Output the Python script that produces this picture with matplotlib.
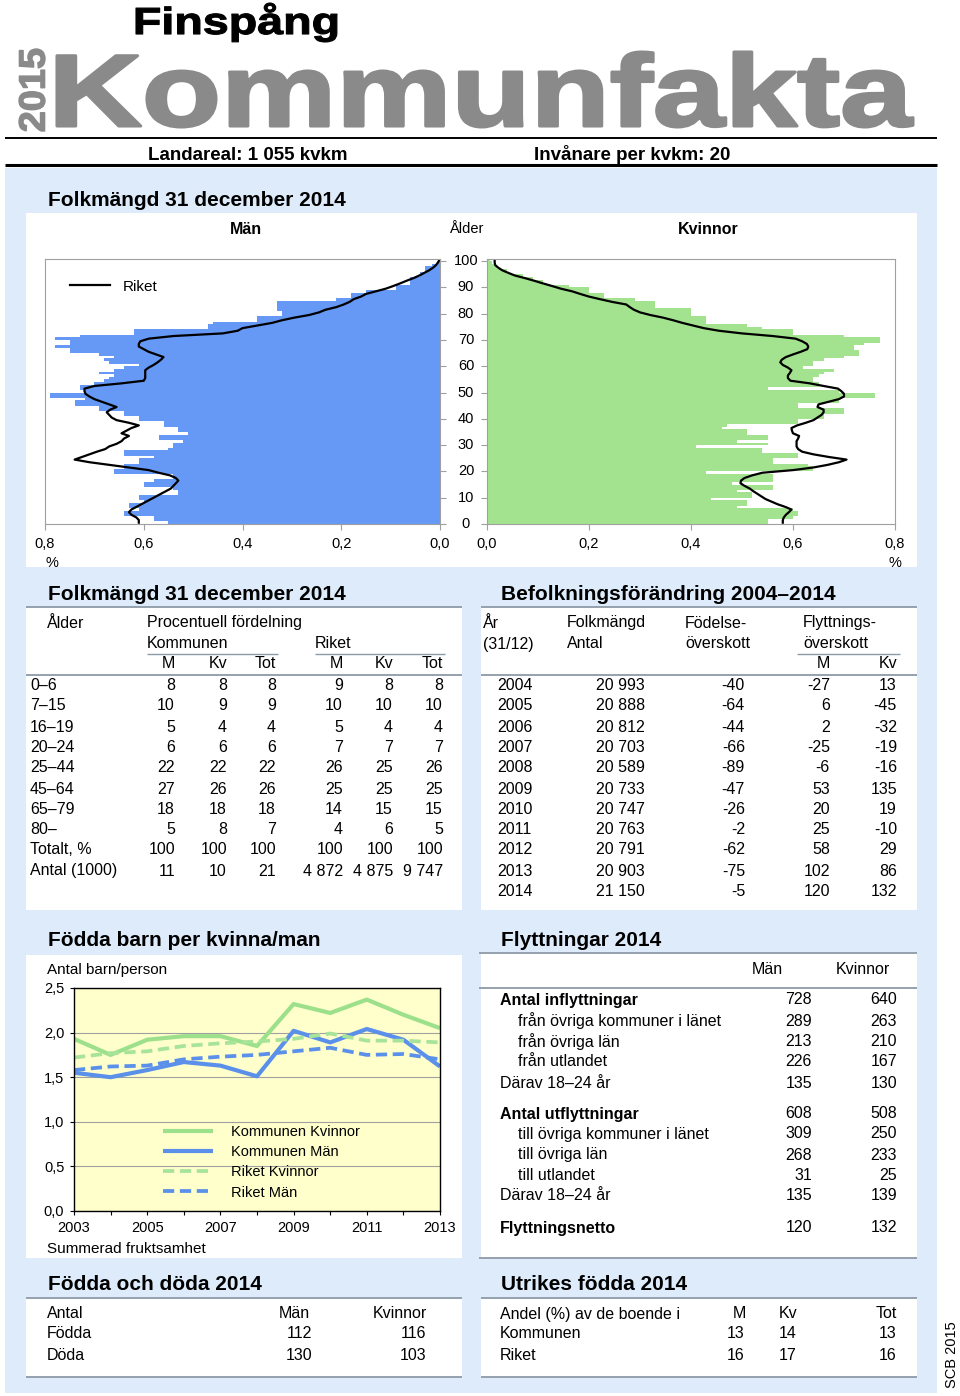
import matplotlib
matplotlib.use('Agg')
import matplotlib.pyplot as plt
import numpy as np
from matplotlib.textpath import TextPath
from matplotlib.font_manager import FontProperties
from matplotlib.patches import PathPatch, Rectangle
from matplotlib.path import Path
from matplotlib.transforms import blended_transform_factory

FONT = 'Liberation Sans'
plt.rcParams['font.family'] = [FONT, 'DejaVu Sans']

# ---------------- DATA ----------------
ages = list(range(0, 101))
men_kommun = [0.55, 0.58, 0.58, 0.64, 0.64, 0.61, 0.63, 0.63, 0.60, 0.61,
              0.61, 0.53, 0.53, 0.54, 0.60, 0.60, 0.58, 0.54, 0.54, 0.66,
              0.66, 0.64, 0.64, 0.61, 0.61, 0.58, 0.64, 0.64, 0.55, 0.54,
              0.54, 0.52, 0.57, 0.57, 0.51, 0.53, 0.53, 0.56, 0.56, 0.61,
              0.61, 0.64, 0.64, 0.69, 0.69, 0.74, 0.74, 0.72, 0.79, 0.79,
              0.72, 0.73, 0.73, 0.70, 0.68, 0.67, 0.66, 0.69, 0.66, 0.64,
              0.61, 0.67, 0.68, 0.66, 0.69, 0.75, 0.75, 0.78, 0.75, 0.75,
              0.78, 0.73, 0.62, 0.62, 0.47, 0.47, 0.46, 0.37, 0.37, 0.32,
              0.32, 0.33, 0.33, 0.33, 0.33, 0.21, 0.18, 0.18, 0.15, 0.09,
              0.09, 0.06, 0.06, 0.06, 0.04, 0.04, 0.03, 0.03, 0.017, 0.007,
              0.003]
men_riket = [0.61, 0.61, 0.615, 0.625, 0.63, 0.625, 0.615, 0.605, 0.595, 0.585,
             0.575, 0.565, 0.555, 0.545, 0.54, 0.535, 0.53, 0.535, 0.547, 0.57,
             0.59, 0.63, 0.67, 0.71, 0.74, 0.725, 0.71, 0.695, 0.678, 0.67,
             0.655, 0.645, 0.64, 0.63, 0.645, 0.635, 0.625, 0.61, 0.63, 0.655,
             0.665, 0.67, 0.675, 0.668, 0.655, 0.67, 0.685, 0.70, 0.71, 0.718,
             0.72, 0.72, 0.70, 0.645, 0.60, 0.597, 0.597, 0.597, 0.597, 0.59,
             0.58, 0.572, 0.565, 0.56, 0.575, 0.59, 0.60, 0.61, 0.61, 0.607,
             0.59, 0.54, 0.44, 0.41, 0.40, 0.37, 0.34, 0.32, 0.295, 0.265,
             0.245, 0.232, 0.21, 0.195, 0.183, 0.175, 0.16, 0.15, 0.13, 0.11,
             0.095, 0.081, 0.068, 0.054, 0.042, 0.032, 0.022, 0.014, 0.008, 0.004,
             0.001]
women_kommun = [0.55, 0.55, 0.60, 0.61, 0.61, 0.60, 0.49, 0.51, 0.51, 0.44,
                0.52, 0.52, 0.49, 0.56, 0.56, 0.48, 0.56, 0.56, 0.56, 0.43,
                0.64, 0.64, 0.63, 0.56, 0.56, 0.61, 0.61, 0.54, 0.54, 0.41,
                0.55, 0.49, 0.55, 0.55, 0.51, 0.51, 0.46, 0.47, 0.61, 0.61,
                0.66, 0.66, 0.70, 0.70, 0.61, 0.61, 0.69, 0.69, 0.76, 0.76,
                0.69, 0.55, 0.65, 0.65, 0.64, 0.64, 0.65, 0.66, 0.68, 0.62,
                0.64, 0.64, 0.66, 0.70, 0.73, 0.73, 0.72, 0.72, 0.74, 0.77,
                0.77, 0.70, 0.60, 0.60, 0.54, 0.51, 0.43, 0.43, 0.43, 0.40,
                0.40, 0.40, 0.33, 0.33, 0.33, 0.29, 0.23, 0.23, 0.20, 0.20,
                0.16, 0.11, 0.11, 0.09, 0.07, 0.04, 0.04, 0.02, 0.015, 0.01,
                0.005]
women_riket = [0.58, 0.58, 0.582, 0.586, 0.592, 0.597, 0.585, 0.57, 0.558, 0.546,
               0.538, 0.53, 0.522, 0.515, 0.505, 0.497, 0.498, 0.505, 0.52, 0.54,
               0.60, 0.64, 0.668, 0.69, 0.705, 0.67, 0.64, 0.618, 0.61, 0.607,
               0.607, 0.607, 0.61, 0.612, 0.60, 0.598, 0.597, 0.608, 0.625, 0.64,
               0.648, 0.656, 0.66, 0.66, 0.648, 0.65, 0.67, 0.69, 0.70, 0.70,
               0.695, 0.688, 0.66, 0.633, 0.595, 0.59, 0.59, 0.594, 0.597, 0.59,
               0.58, 0.575, 0.578, 0.586, 0.60, 0.615, 0.628, 0.63, 0.627, 0.618,
               0.605, 0.56, 0.50, 0.455, 0.425, 0.404, 0.383, 0.365, 0.345, 0.32,
               0.30, 0.288, 0.28, 0.273, 0.245, 0.222, 0.20, 0.183, 0.167, 0.145,
               0.128, 0.11, 0.093, 0.075, 0.055, 0.042, 0.03, 0.022, 0.016, 0.015,
               0.015]
pyr_xticks = [0.0, 0.2, 0.4, 0.6, 0.8]
pyr_xticklabels = ['0,0', '0,2', '0,4', '0,6', '0,8']
age_ticks = list(range(0, 101, 10))

# fertility
fert_years = list(range(2003, 2014))
fert_kom_kv = [1.93, 1.75, 1.92, 1.96, 1.96, 1.85, 2.32, 2.22, 2.37, 2.20, 2.05]
fert_kom_m = [1.55, 1.50, 1.58, 1.67, 1.63, 1.51, 2.02, 1.89, 2.04, 1.92, 1.62]
fert_rik_kv = [1.72, 1.77, 1.79, 1.85, 1.88, 1.90, 1.93, 1.99, 1.91, 1.91, 1.89]
fert_rik_m = [1.58, 1.62, 1.63, 1.70, 1.73, 1.75, 1.79, 1.83, 1.75, 1.76, 1.70]
fert_yticks = [0.0, 0.5, 1.0, 1.5, 2.0, 2.5]
fert_yticklabels = ['0,0', '0,5', '1,0', '1,5', '2,0', '2,5']
fert_xticklabels = ['2003', '', '2005', '', '2007', '', '2009', '', '2011', '', '2013']
fert_labels = ['Kommunen Kvinnor', 'Kommunen Män', 'Riket Kvinnor', 'Riket Män']

# Folkmängd table
age_groups = ['0–6', '7–15', '16–19', '20–24', '25–44', '45–64', '65–79', '80–', 'Totalt, %', 'Antal (1000)']
kom_m = ['8', '10', '5', '6', '22', '27', '18', '5', '100', '11']
kom_kv = ['8', '9', '4', '6', '22', '26', '18', '8', '100', '10']
kom_tot = ['8', '9', '4', '6', '22', '26', '18', '7', '100', '21']
rik_m = ['9', '10', '5', '7', '26', '25', '14', '4', '100', '4 872']
rik_kv = ['8', '10', '4', '7', '25', '25', '15', '6', '100', '4 875']
rik_tot = ['8', '10', '4', '7', '26', '25', '15', '5', '100', '9 747']

# Befolkningsförändring
bf_years = ['2004', '2005', '2006', '2007', '2008', '2009', '2010', '2011', '2012', '2013', '2014']
bf_folkmangd = ['20 993', '20 888', '20 812', '20 703', '20 589', '20 733', '20 747', '20 763', '20 791', '20 903', '21 150']
bf_fodelse = ['-40', '-64', '-44', '-66', '-89', '-47', '-26', '-2', '-62', '-75', '-5']
bf_flytt_m = ['-27', '6', '2', '-25', '-6', '53', '20', '25', '58', '102', '120']
bf_flytt_kv = ['13', '-45', '-32', '-19', '-16', '135', '19', '-10', '29', '86', '132']

# Flyttningar
fl_labels = ['Antal inflyttningar', 'från övriga kommuner i länet', 'från övriga län', 'från utlandet',
             'Därav 18–24 år', 'Antal utflyttningar', 'till övriga kommuner i länet', 'till övriga län',
             'till utlandet', 'Därav 18–24 år', 'Flyttningsnetto']
fl_man = ['728', '289', '213', '226', '135', '608', '309', '268', '31', '135', '120']
fl_kvinnor = ['640', '263', '210', '167', '130', '508', '250', '233', '25', '139', '132']

# Födda och döda
fd_rows = ['Födda', 'Döda']
fd_man = ['112', '130']
fd_kvinnor = ['116', '103']

# Utrikes födda
uf_rows = ['Kommunen', 'Riket']
uf_m = ['13', '16']
uf_kv = ['14', '17']
uf_tot = ['13', '16']

# ---------------- FIGURE ----------------
W, H = 960, 1396
fig = plt.figure(figsize=(W / 100, H / 100), dpi=100)
fig.patch.set_facecolor('white')
bg = fig.add_axes([0, 0, 1, 1])
bg.set_xlim(0, W)
bg.set_ylim(H, 0)
bg.axis('off')

BLUE_BG = '#DDEBFA'
LINE_C = '#8E9AA8'
BAR_BLUE = '#6699F5'
BAR_GREEN = '#A3E38F'


def rect(x0, y0, x1, y1, color):
    bg.add_patch(Rectangle((x0, y0), x1 - x0, y1 - y0, facecolor=color, edgecolor='none', zorder=0))


def hline(y, x0, x1, color=LINE_C, lw=1.3):
    bg.plot([x0, x1], [y, y], color=color, lw=lw, solid_capstyle='butt', zorder=2)


def T(x, y, s, size=11.5, ha='left', weight='normal', color='black', **kw):
    bg.text(x, y, s, fontsize=size, ha=ha, va='center', fontweight=weight, color=color, **kw)


def px_axes(x0, y0, x1, y1):
    return fig.add_axes([x0 / W, 1 - y1 / H, (x1 - x0) / W, (y1 - y0) / H])


def fit_text(s, box, color, rotate=False, size=100, stroke=0.0):
    fp = FontProperties(family=FONT, weight='bold')
    tp = TextPath((0, 0), s, size=size, prop=fp)
    ext = tp.get_extents()
    v = tp.vertices
    x0, y0, x1, y1 = box
    u = (v[:, 0] - ext.x0) / (ext.x1 - ext.x0)
    w = (v[:, 1] - ext.y0) / (ext.y1 - ext.y0)
    if not rotate:
        X = x0 + u * (x1 - x0)
        Y = y1 - w * (y1 - y0)
    else:
        X = x1 - w * (x1 - x0)
        Y = y1 - u * (y1 - y0)
    bg.add_patch(PathPatch(Path(np.column_stack([X, Y]), tp.codes), facecolor=color,
                           edgecolor=color if stroke else 'none', linewidth=stroke,
                           joinstyle='round', zorder=3))


# header
fit_text('Finspång', (136, 3, 337, 42), 'black', stroke=0.8)
fit_text('Kommunfakta', (57, 52, 913, 127), '#8A8A8A', stroke=2.2)
fit_text('2015', (19, 49, 45, 131), '#8A8A8A', rotate=True, stroke=1.0)
hline(138, 5, 937, color='black', lw=1.4)
T(148, 155, 'Landareal: 1 055 kvkm', size=13.5, weight='bold')
T(534, 155, 'Invånare per kvkm: 20', size=13.5, weight='bold')
hline(165, 5, 937, color='black', lw=2.2)

# blue background
rect(5, 168, 937, 1393, BLUE_BG)
bg.text(952, 1355, 'SCB 2015', fontsize=10.5, rotation=90, ha='center', va='center')

# ---- Section 1: pyramid ----
T(48, 200, 'Folkmängd 31 december 2014', size=15, weight='bold')
rect(26, 213, 917, 567, 'white')
T(246, 229, 'Män', size=11.5, weight='bold', ha='center')
T(466, 229, 'Ålder', size=10.5, ha='center')
T(708, 229, 'Kvinnor', size=11.5, weight='bold', ha='center')
T(52, 563, '%', size=10.5, ha='center')
T(895, 563, '%', size=10.5, ha='center')

FR = '#A0A0A0'
axL = px_axes(45, 259, 440, 524)
axL.barh(ages, men_kommun, height=1.0, align='edge', color=BAR_BLUE, linewidth=0)
axL.plot(men_riket, [a + 0.5 for a in ages], color='black', lw=1.6, label='Riket')
axL.set_xlim(0.8, 0.0)
axL.set_ylim(0, 100.8)
axL.set_xticks(pyr_xticks)
axL.set_xticklabels(pyr_xticklabels, fontsize=10.5)
axL.set_yticks(age_ticks)
axL.yaxis.tick_right()
axL.tick_params(axis='y', labelright=False, length=4, color=FR, direction='out')
axL.tick_params(axis='x', length=4, color=FR, pad=5)
for sp in axL.spines.values():
    sp.set_color(FR)
axL.legend(loc='center left', bbox_to_anchor=(0.063, 0.895), frameon=False, fontsize=11,
           handlelength=2.6, handletextpad=0.85, borderpad=0, borderaxespad=0)
tr = blended_transform_factory(axL.transAxes, axL.transData)
for a in age_ticks:
    axL.text((466 - 45) / 395, a, str(a), transform=tr, ha='center', va='center', fontsize=10.5,
             clip_on=False)

axR = px_axes(487, 259, 895, 524)
axR.barh(ages, women_kommun, height=1.0, align='edge', color=BAR_GREEN, linewidth=0)
axR.plot(women_riket, [a + 0.5 for a in ages], color='black', lw=1.6)
axR.set_xlim(0.0, 0.8)
axR.set_ylim(0, 100.8)
axR.set_xticks(pyr_xticks)
axR.set_xticklabels(pyr_xticklabels, fontsize=10.5)
axR.set_yticks(age_ticks)
axR.tick_params(axis='y', labelleft=False, length=4, color=FR, direction='out')
axR.tick_params(axis='x', length=4, color=FR, pad=5)
for sp in axR.spines.values():
    sp.set_color(FR)

# ---- Section 2 left: Folkmängd table ----
T(48, 594, 'Folkmängd 31 december 2014', size=15, weight='bold')
rect(26, 607, 462, 910, 'white')
hline(607, 26, 462)
T(47, 623, 'Ålder')
T(147, 623, 'Procentuell fördelning')
T(147, 644, 'Kommunen')
T(315, 644, 'Riket')
hline(654, 147, 278, lw=1.0)
hline(654, 315, 445, lw=1.0)
cols_l = [175, 227, 276, 343, 393, 443]
for x, s in zip(cols_l, ['M', 'Kv', 'Tot', 'M', 'Kv', 'Tot']):
    T(x, 664, s, ha='right')
hline(675, 26, 462)
row_y = [685, 706, 727, 747, 768, 789, 809, 830, 850, 871]
for i, y in enumerate(row_y):
    T(30, y, age_groups[i])
    for x, col in zip(cols_l, [kom_m, kom_kv, kom_tot, rik_m, rik_kv, rik_tot]):
        T(x, y, col[i], ha='right')

# ---- Section 2 right: Befolkningsförändring ----
T(501, 594, 'Befolkningsförändring 2004–2014', size=15, weight='bold')
rect(481, 607, 917, 910, 'white')
hline(607, 481, 917)
T(483, 623, 'År')
T(483, 644, '(31/12)')
T(567, 623, 'Folkmängd')
T(567, 644, 'Antal')
T(685, 623, 'Födelse-')
T(685, 644, 'överskott')
T(803, 623, 'Flyttnings-')
T(803, 644, 'överskott')
hline(654, 797, 900, lw=1.0)
T(830, 664, 'M', ha='right')
T(897, 664, 'Kv', ha='right')
hline(675, 481, 917)
row_y2 = [685, 706, 727, 747, 768, 789, 809, 830, 850, 871, 892]
for i, y in enumerate(row_y2):
    T(497, y, bf_years[i])
    T(645, y, bf_folkmangd[i], ha='right')
    T(745, y, bf_fodelse[i], ha='right')
    T(830, y, bf_flytt_m[i], ha='right')
    T(897, y, bf_flytt_kv[i], ha='right')

# ---- Section 3 left: fertility ----
T(48, 940, 'Födda barn per kvinna/man', size=15, weight='bold')
rect(26, 955, 462, 1258, 'white')
T(47, 970, 'Antal barn/person', size=11)
T(47, 1249, 'Summerad fruktsamhet', size=11)
axF = px_axes(74, 988, 440, 1211)
axF.set_facecolor('#FFFFCC')
GREEN_L = '#9DE08C'
BLUE_L = '#5A90EA'
axF.plot(fert_years, fert_kom_kv, color=GREEN_L, lw=3.0, solid_capstyle='butt',
         solid_joinstyle='round', label=fert_labels[0])
axF.plot(fert_years, fert_kom_m, color=BLUE_L, lw=3.0, solid_capstyle='butt',
         solid_joinstyle='round', label=fert_labels[1])
axF.plot(fert_years, fert_rik_kv, color='#A8E39A', lw=2.7, dashes=(3.0, 1.5), label=fert_labels[2])
axF.plot(fert_years, fert_rik_m, color=BLUE_L, lw=2.7, dashes=(3.0, 1.5), label=fert_labels[3])
axF.set_xlim(2003, 2013)
axF.set_ylim(0, 2.5)
axF.set_yticks(fert_yticks)
axF.set_yticklabels(fert_yticklabels, fontsize=10.5)
axF.set_xticks(fert_years)
axF.set_xticklabels(fert_xticklabels, fontsize=10.5)
axF.tick_params(length=3, pad=4)
axF.yaxis.grid(True, color='#A0A0A0', lw=0.8)
axF.set_axisbelow(True)
for sp in axF.spines.values():
    sp.set_color('black')
    sp.set_linewidth(1.0)
axF.legend(loc='upper left', bbox_to_anchor=(0.243, 0.385), frameon=False, fontsize=10.5,
           handlelength=3.4, handletextpad=1.3, labelspacing=0.42, borderpad=0, borderaxespad=0)

# ---- Section 3 right: Flyttningar ----
T(501, 940, 'Flyttningar 2014', size=15, weight='bold')
rect(481, 953, 917, 1258, 'white')
hline(953, 479, 917)
T(767, 970, 'Män', ha='center')
T(863, 970, 'Kvinnor', ha='center')
hline(988, 479, 917)
fl_y = [1000, 1021, 1042, 1062, 1083, 1114, 1134, 1155, 1176, 1196, 1228]
bold_rows = {0, 5, 10}
indent_rows = {1, 2, 3, 6, 7, 8}
for i, y in enumerate(fl_y):
    T(518 if i in indent_rows else 500, y, fl_labels[i], weight='bold' if i in bold_rows else 'normal')
    T(812, y, fl_man[i], ha='right')
    T(897, y, fl_kvinnor[i], ha='right')
hline(1258, 479, 917)

# ---- Section 4 left: Födda och döda ----
T(48, 1285, 'Födda och döda 2014', size=15, weight='bold')
rect(26, 1298, 462, 1377, 'white')
hline(1298, 26, 462)
T(47, 1314, 'Antal')
T(310, 1314, 'Män', ha='right')
T(427, 1314, 'Kvinnor', ha='right')
for i, y in enumerate([1334, 1355]):
    T(47, y, fd_rows[i])
    T(312, y, fd_man[i], ha='right')
    T(426, y, fd_kvinnor[i], ha='right')
hline(1377, 26, 462)

# ---- Section 4 right: Utrikes födda ----
T(501, 1285, 'Utrikes födda 2014', size=15, weight='bold')
rect(481, 1298, 917, 1377, 'white')
hline(1298, 481, 917)
T(500, 1314, 'Andel (%) av de boende i')
T(746, 1314, 'M', ha='right')
T(797, 1314, 'Kv', ha='right')
T(897, 1314, 'Tot', ha='right')
for i, y in enumerate([1334, 1355]):
    T(500, y, uf_rows[i])
    T(745, y, uf_m[i], ha='right')
    T(797, y, uf_kv[i], ha='right')
    T(897, y, uf_tot[i], ha='right')
hline(1377, 481, 917)

fig.savefig('out.png', dpi=100)
